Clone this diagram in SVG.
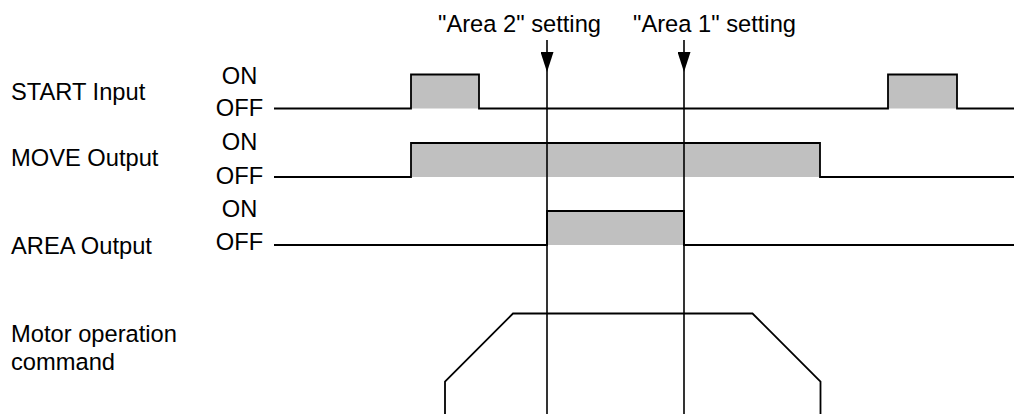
<svg xmlns="http://www.w3.org/2000/svg" width="1014" height="414" viewBox="0 0 1014 414">
<style>
text{font-family:"Liberation Sans",Arial,sans-serif;font-size:23.7px;fill:#000}
.st{text-anchor:middle}
.sig{fill:none;stroke:#000;stroke-width:1.8;stroke-linejoin:miter}
.fill{fill:#c0c0c0;stroke:none}
.mk{fill:none;stroke:#000;stroke-width:1.6}
</style>
<defs>
<marker id="ah" markerWidth="20" markerHeight="13" refX="20" refY="6.5" orient="auto" markerUnits="userSpaceOnUse" viewBox="0 0 20 13">
<path d="M0,0 L20,6.5 L0,13 Z" fill="#000"/>
</marker>
</defs>
<rect width="1014" height="414" fill="#fff"/>
<g id="labels">
<text x="11" y="99.5">START Input</text>
<text x="11" y="166">MOVE Output</text>
<text x="11" y="253.5">AREA Output</text>
<text x="11" y="341.5">Motor operation</text>
<text x="11" y="370">command</text>
<text class="st" x="239.5" y="83.5">ON</text>
<text class="st" x="239.5" y="116">OFF</text>
<text class="st" x="239.5" y="150">ON</text>
<text class="st" x="239.5" y="183.5">OFF</text>
<text class="st" x="239.5" y="217">ON</text>
<text class="st" x="239.5" y="250">OFF</text>
</g>
<g id="start-input">
<rect class="fill" x="411" y="74.5" width="68" height="34"/>
<rect class="fill" x="888" y="74.5" width="69" height="34"/>
<path class="sig" d="M274,108.5 H411 V74.5 H479 V108.5 H888 V74.5 H957 V108.5 H1014"/>
</g>
<g id="move-output">
<rect class="fill" x="411" y="143" width="409" height="34"/>
<path class="sig" d="M274,177 H411 V143 H820 V177 H1014"/>
</g>
<g id="area-output">
<rect class="fill" x="547" y="211" width="137" height="34"/>
<path class="sig" d="M274,245 H547 V211 H684 V245 H1014"/>
</g>
<g id="motor-command">
<path class="sig" d="M445,414 V381.5 L513,313.5 H752.5 L820.5,381.5 V414"/>
</g>
<g id="connectors">
<text x="438" y="31.5">"Area 2" setting</text>
<text x="633" y="31.5">"Area 1" setting</text>
<path class="mk" d="M547,40 V72" marker-end="url(#ah)"/>
<path class="mk" d="M547,72 V414"/>
<path class="mk" d="M684,40 V72" marker-end="url(#ah)"/>
<path class="mk" d="M684,72 V414"/>
</g>
</svg>
